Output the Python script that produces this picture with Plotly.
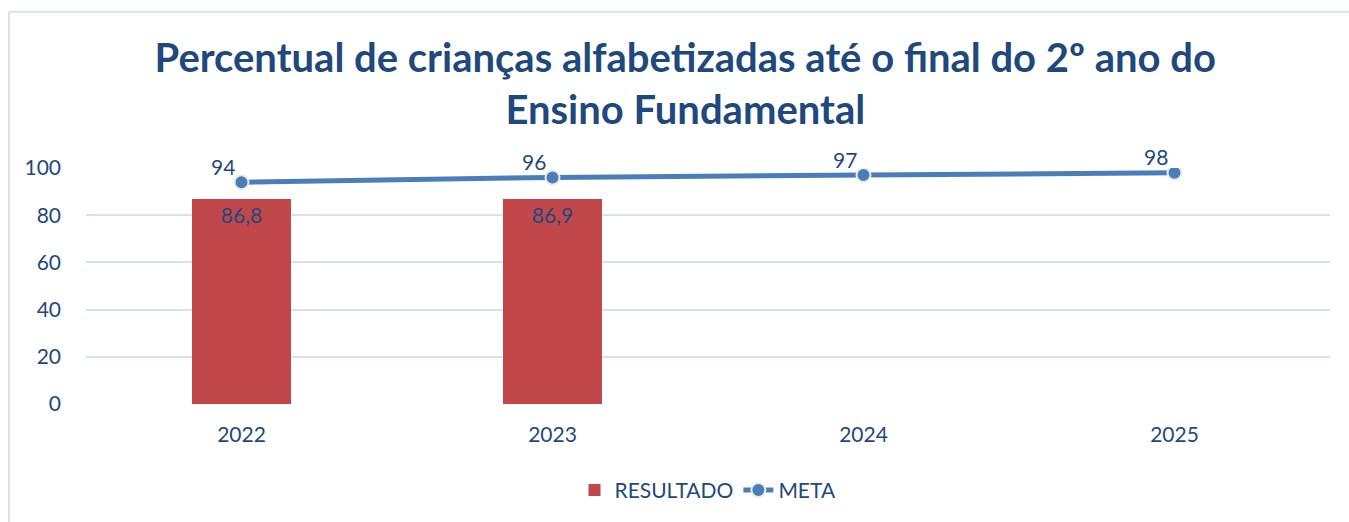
import plotly.graph_objects as go

anos = ["2022", "2023", "2024", "2025"]
resultado = [86.8, 86.9, None, None]
resultado_txt = ["86,8", "86,9", "", ""]
meta = [94, 96, 97, 98]
meta_txt = ["94", "96", "97", "98"]
y_ticks = [0, 20, 40, 60, 80, 100]

TXT = "#1F497D"
FONT = "Lato, 'Open Sans', sans-serif"
FS = 21

fig = go.Figure()
fig.add_trace(go.Bar(
    x=anos, y=resultado, name="RESULTADO", width=0.32,
    marker=dict(color="#C1474A", line=dict(width=0)),
    text=resultado_txt, textposition="inside", insidetextanchor="end",
    textfont=dict(color=TXT, size=FS, family=FONT), textangle=0,
))
fig.add_trace(go.Scatter(
    x=anos, y=meta, name="META", mode="lines+markers",
    line=dict(color="#4A7EBB", width=5),
    marker=dict(size=14, color="#4A7EBB", line=dict(color="#EEECE1", width=2)),
))
for i, (v, t) in enumerate(zip(meta, meta_txt)):
    fig.add_annotation(x=i, y=v, xref="x", yref="y", text=t, showarrow=False,
                       xshift=-19, yshift=16,
                       font=dict(color=TXT, size=FS, family=FONT))

# chart frame lines (top and left)
fig.add_shape(type="line", xref="paper", yref="paper", x0=-0.0619, x1=1.03,
              y0=1.662, y1=1.662, line=dict(color="#D6E2F3", width=2))
fig.add_shape(type="line", xref="paper", yref="paper", x0=-0.0619, x1=-0.0619,
              y0=1.662, y1=-0.6, line=dict(color="#D6E2F3", width=2))

fig.update_layout(
    width=1349, height=522,
    margin=dict(l=86, r=19, t=168, b=117),
    paper_bgcolor="white", plot_bgcolor="white",
    title=dict(text="<b>Percentual de crianças alfabetizadas até o final do 2º ano do<br>Ensino Fundamental</b>",
               x=0.508, xanchor="center", y=0.863, yanchor="top",
               font=dict(family=FONT, size=40, color=TXT)),
    font=dict(family=FONT, color=TXT, size=FS),
    showlegend=True,
    legend=dict(orientation="h", x=0.5, xanchor="center", y=-0.36, yanchor="middle",
                font=dict(size=FS, color=TXT, family=FONT)),
    bargap=0,
)
fig.update_xaxes(type="category", range=[-0.5, 3.5], showgrid=False, showline=False, ticks="",
                 tickfont=dict(size=FS, color=TXT), ticklabelstandoff=16)
fig.update_yaxes(range=[0, 100], tickvals=y_ticks, showgrid=True, gridcolor="#D6E2F3",
                 gridwidth=2, zeroline=False, showline=False, ticks="",
                 tickfont=dict(size=FS, color=TXT), ticklabelstandoff=24)

fig.write_html("out.html", config={"displayModeBar": False},
               post_script="document.body.style.margin='0';")
